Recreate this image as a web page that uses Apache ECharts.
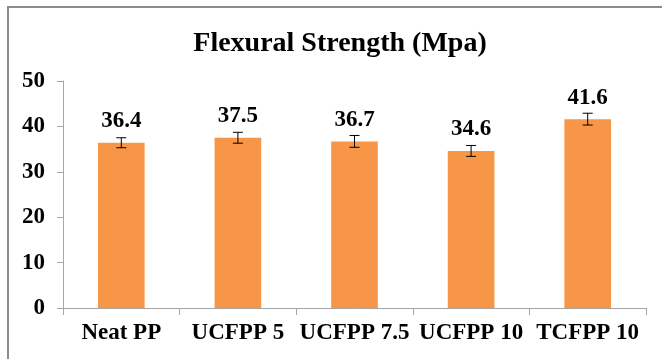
<!DOCTYPE html>
<html>
<head>
<meta charset="utf-8">
<script src="https://cdn.jsdelivr.net/npm/echarts@6/dist/echarts.min.js"></script>
<style>html,body{margin:0;padding:0;background:#fff}#c{width:662px;height:359px}</style>
</head>
<body>
<div id="c"></div>
<script>
var categories = ['Neat PP', 'UCFPP 5', 'UCFPP 7.5', 'UCFPP 10', 'TCFPP 10'];
var strength = [36.4, 37.5, 36.7, 34.6, 41.6];
var errors = [1.1, 1.2, 1.3, 1.2, 1.3];
var yTicks = [0, 10, 20, 30, 40, 50];

var FONT = '"Liberation Serif", "Times New Roman", serif';
var chart = echarts.init(document.getElementById('c'));
var errData = strength.map(function (v, i) { return [i, v - errors[i], v + errors[i]]; });

chart.setOption({
  animation: false,
  backgroundColor: '#fff',
  title: {
    text: 'Flexural Strength (Mpa)',
    left: 335, top: 25, textAlign: 'center',
    textStyle: { fontFamily: FONT, fontWeight: 'bold', fontSize: 28, color: '#000' }
  },
  graphic: [{
    type: 'rect', shape: { x: 8, y: 7, width: 720, height: 420 },
    style: { fill: 'none', stroke: '#8c8c8c', lineWidth: 2 }, silent: true, z: -1
  }],
  grid: { left: 63, right: 16, top: 81, bottom: 51 },
  xAxis: {
    type: 'category', data: categories,
    axisLine: { lineStyle: { color: '#a6a6a6', width: 1 } },
    axisTick: { show: true, length: 7, lineStyle: { color: '#a6a6a6' } },
    axisLabel: { margin: 14, fontFamily: FONT, fontWeight: 'bold', fontSize: 23, color: '#000', interval: 0 }
  },
  yAxis: {
    type: 'value', min: yTicks[0], max: yTicks[yTicks.length - 1], interval: 10,
    axisLine: { show: true, lineStyle: { color: '#a6a6a6', width: 1 } },
    axisTick: { show: true, length: 6, lineStyle: { color: '#a6a6a6' } },
    splitLine: { show: false },
    axisLabel: { margin: 18, fontFamily: FONT, fontWeight: 'bold', fontSize: 23, color: '#000' }
  },
  series: [{
    type: 'bar', data: strength, barWidth: '40%',
    itemStyle: { color: '#F79646' },
    label: {
      show: true, position: 'top', distance: 10,
      fontFamily: FONT, fontWeight: 'bold', fontSize: 23, color: '#000',
      formatter: function (p) { return p.value.toFixed(1); }
    }
  }, {
    type: 'custom', data: errData, z: 10,
    renderItem: function (params, api) {
      var x = api.value(0);
      var lo = api.coord([x, api.value(1)]);
      var hi = api.coord([x, api.value(2)]);
      var hw = 5;
      var st = { stroke: '#000', lineWidth: 1 };
      return { type: 'group', children: [
        { type: 'line', shape: { x1: lo[0], y1: lo[1], x2: hi[0], y2: hi[1] }, style: st },
        { type: 'line', shape: { x1: lo[0] - hw, y1: lo[1], x2: lo[0] + hw, y2: lo[1] }, style: st },
        { type: 'line', shape: { x1: hi[0] - hw, y1: hi[1], x2: hi[0] + hw, y2: hi[1] }, style: st }
      ]};
    }
  }]
});
</script>
</body>
</html>
